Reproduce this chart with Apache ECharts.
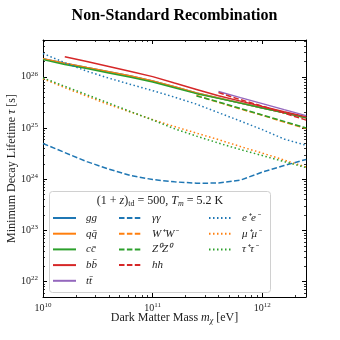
<!DOCTYPE html>
<html>
<head>
<meta charset="utf-8">
<script src="https://cdn.jsdelivr.net/npm/echarts@6/dist/echarts.min.js"></script>
<style>
  html, body { margin: 0; padding: 0; background: #fff; }
  #chart { width: 340px; height: 340px; }
</style>
</head>
<body>
<div id="chart"></div>
<script>
// dark matter mass [eV]
var masses = [1e10, 1.58e10, 2.51e10, 3.98e10, 6.31e10, 1e11, 1.58e11, 2.51e11, 3.98e11, 6.31e11, 1e12, 1.58e12, 2.51e12];

// minimum decay lifetime [s], null = not plotted
var ggTau   = [2.27e26, 1.85e26, 1.52e26, 1.26e26, 1.04e26, 8.3e25, 6.4e25, 4.85e25, 3.87e25, 3.1e25, 2.47e25, 1.98e25, 1.58e25];
var qqTau   = [2.27e26, 1.85e26, 1.52e26, 1.26e26, 1.04e26, 8.3e25, 6.4e25, 4.85e25, 3.87e25, 3.1e25, 2.47e25, 1.98e25, 1.58e25];
var ccTau   = [2.17e26, 1.75e26, 1.45e26, 1.19e26, 9.8e25, 7.9e25, 6.15e25, 4.7e25, 3.8e25, 3.07e25, 2.46e25, 1.98e25, 1.58e25];
var bbTau   = [null, 2.48e26, 1.99e26, 1.59e26, 1.27e26, 1.01e26, 7.57e25, 5.68e25, 4.28e25, 3.36e25, 2.64e25, 2.09e25, 1.67e25];
var ttTau   = [null, null, null, null, null, null, null, null, 5.19e25, 3.93e25, 3.0e25, 2.29e25, 1.75e25];
var gamTau  = [5.0e24, 3.32e24, 2.21e24, 1.58e24, 1.18e24, 9.86e23, 8.9e23, 8.36e23, 8.43e23, 9.6e23, 1.38e24, 1.85e24, 2.44e24];
var wwTau   = [null, null, null, null, null, null, null, 4.33e25, 3.18e25, 2.36e25, 1.77e25, 1.31e25, 9.75e24];
var zzTau   = [null, null, null, null, null, null, null, 4.24e25, 3.24e25, 2.42e25, 1.8e25, 1.35e25, 1.0e25];
var hhTau   = [null, null, null, null, null, null, null, null, 4.92e25, 3.59e25, 2.68e25, 1.96e25, 1.43e25];
var eeTau   = [2.86e26, 1.89e26, 1.29e26, 9.44e25, 7.1e25, 5.38e25, 4.02e25, 2.93e25, 2.0e25, 1.37e25, 9.3e24, 6.1e24, 4.6e24];
var mumuTau = [9.2e25, 6.15e25, 4.2e25, 2.87e25, 2.05e25, 1.46e25, 1.07e25, 7.96e24, 5.95e24, 4.35e24, 3.24e24, 2.37e24, 1.73e24];
var tautauTau = [9.55e25, 6.53e25, 4.48e25, 3.07e25, 2.09e25, 1.44e25, 9.7e24, 6.96e24, 5.09e24, 3.8e24, 2.9e24, 2.21e24, 1.69e24];

// tick labels (powers of ten)
var xTickExp = [10, 11, 12];
var yTickExp = [22, 23, 24, 25, 26];

var X_MIN = 10, X_MAX = Math.log10(2.5e12);
var Y_MIN = 21.7, Y_MAX = 26.72;
var FONT = 'Liberation Serif';

var C = { blue: '#1f77b4', orange: '#ff7f0e', green: '#2ca02c', red: '#d62728', purple: '#9467bd' };
var DASH = [5.5, 2.4];
var DOT = [1.5, 2.5];

function toPoints(tau) {
    var pts = [];
    for (var i = 0; i < masses.length; i++) {
        if (tau[i] != null) pts.push([Math.log10(masses[i]), Math.log10(tau[i])]);
    }
    return pts;
}

function minorTicks(lo, hi) {
    var out = [];
    for (var d = Math.floor(lo); d <= Math.ceil(hi); d++) {
        for (var k = 2; k <= 9; k++) {
            var v = d + Math.log10(k);
            if (v > lo && v < hi) out.push(v);
        }
    }
    return out;
}

var supRich = {
    b: { fontFamily: FONT, fontSize: 10, color: '#222' },
    s: { fontFamily: FONT, fontSize: 7, color: '#222', padding: [0, 0, 6, 0] }
};
function powLabel(v) {
    return '{b|10}{s|' + Math.round(v) + '}';
}

var lines = [
    { name: 'gg', data: ggTau, color: C.blue, type: 'solid' },
    { name: 'qq\u0304', data: qqTau, color: C.orange, type: 'solid' },
    { name: 'cc\u0304', data: ccTau, color: C.green, type: 'solid' },
    { name: 'bb\u0304', data: bbTau, color: C.red, type: 'solid' },
    { name: 'tt\u0304', data: ttTau, color: C.purple, type: 'solid' },
    { name: '\u03b3\u03b3', data: gamTau, color: C.blue, type: DASH },
    { name: 'W\u207aW\u207b', data: wwTau, color: C.orange, type: DASH },
    { name: 'Z\u2070Z\u2070', data: zzTau, color: C.green, type: DASH },
    { name: 'hh', data: hhTau, color: C.red, type: DASH },
    { name: 'e\u207ae\u207b', data: eeTau, color: C.blue, type: DOT },
    { name: '\u03bc\u207a\u03bc\u207b', data: mumuTau, color: C.orange, type: DOT },
    { name: '\u03c4\u207a\u03c4\u207b', data: tautauTau, color: C.green, type: DOT }
];

var series = lines.map(function (l) {
    return {
        name: l.name,
        type: 'line',
        data: toPoints(l.data),
        symbol: 'none',
        smooth: false,
        color: l.color,
        lineStyle: { color: l.color, width: 1.5, type: l.type },
        emphasis: { disabled: true }
    };
});

function legendCol(names, left) {
    return {
        data: names,
        orient: 'vertical',
        left: left,
        top: 212,
        padding: 0,
        itemWidth: 23,
        itemHeight: 12,
        itemGap: 3.7,
        selectedMode: false,
        itemStyle: { opacity: 0 },
        textStyle: { fontFamily: FONT, fontStyle: 'italic', fontSize: 11, color: '#222', lineHeight: 12, padding: [0, 0, 0, 5] }
    };
}

function axisBase(min, max) {
    return {
        type: 'value',
        min: min,
        max: max,
        splitLine: { show: false },
        axisLine: { show: false },
        axisLabel: { show: false },
        axisTick: { show: false }
    };
}

function majorAxis(min, max, pos, ticks, withLabels) {
    var a = axisBase(min, max);
    a.position = pos;
    a.axisLine = { show: true, onZero: false, lineStyle: { color: '#000', width: 1 } };
    a.axisTick = { show: true, inside: true, length: 4, customValues: ticks, lineStyle: { color: '#000', width: 1 } };
    if (withLabels) {
        a.axisLabel = { show: true, customValues: ticks, formatter: powLabel, rich: supRich, margin: 5 };
    }
    return a;
}

function minorAxis(min, max, pos) {
    var a = axisBase(min, max);
    a.position = pos;
    a.axisTick = { show: true, inside: true, length: 2, customValues: minorTicks(min, max), lineStyle: { color: '#000', width: 0.8 } };
    return a;
}

var xMain = majorAxis(X_MIN, X_MAX, 'bottom', xTickExp, true);
xMain.name = 'Dark Matter Mass {i|m}{sub|\u03c7} [eV]';
xMain.nameLocation = 'middle';
xMain.nameGap = 14;
xMain.nameMoveOverlap = false;
xMain.nameTextStyle = {
    fontFamily: FONT, fontSize: 12, color: '#222',
    rich: {
        i: { fontFamily: FONT, fontStyle: 'italic', fontSize: 12, color: '#222' },
        sub: { fontFamily: FONT, fontStyle: 'italic', fontSize: 8, color: '#222', padding: [6, 0, 0, 0] }
    }
};

var yMain = majorAxis(Y_MIN, Y_MAX, 'left', yTickExp, true);
yMain.name = 'Minimum Decay Lifetime {i|\u03c4} [s]';
yMain.nameLocation = 'middle';
yMain.nameGap = 25;
yMain.nameMoveOverlap = false;
yMain.nameRotate = 90;
yMain.nameTextStyle = {
    fontFamily: FONT, fontSize: 12, color: '#222',
    rich: { i: { fontFamily: FONT, fontStyle: 'italic', fontSize: 12, color: '#222' } }
};

var option = {
    animation: false,
    backgroundColor: '#fff',
    grid: { left: 43, right: 34, top: 40, bottom: 43, containLabel: false, outerBoundsMode: 'none' },
    xAxis: [
        xMain,
        majorAxis(X_MIN, X_MAX, 'top', xTickExp, false),
        minorAxis(X_MIN, X_MAX, 'bottom'),
        minorAxis(X_MIN, X_MAX, 'top')
    ],
    yAxis: [
        yMain,
        majorAxis(Y_MIN, Y_MAX, 'right', yTickExp, false),
        minorAxis(Y_MIN, Y_MAX, 'left'),
        minorAxis(Y_MIN, Y_MAX, 'right')
    ],
    legend: [
        legendCol(['gg', 'qq\u0304', 'cc\u0304', 'bb\u0304', 'tt\u0304'], 52),
        legendCol(['\u03b3\u03b3', 'W\u207aW\u207b', 'Z\u2070Z\u2070', 'hh'], 118),
        legendCol(['e\u207ae\u207b', '\u03bc\u207a\u03bc\u207b', '\u03c4\u207a\u03c4\u207b'], 208)
    ],
    graphic: [
        {
            type: 'text',
            x: 174.5,
            y: 8,
            style: {
                text: 'Non-Standard Recombination',
                font: 'bold 16px "Liberation Serif"',
                fill: '#000',
                align: 'center', textAlign: 'center',
                verticalAlign: 'top', textVerticalAlign: 'top'
            }
        },
        {
            type: 'rect',
            z: 1,
            shape: { x: 49.5, y: 191.5, width: 221, height: 101, r: 3 },
            style: { fill: 'rgba(255,255,255,0.8)', stroke: '#d0d0d0', lineWidth: 1 }
        },
        {
            type: 'text',
            z: 2,
            x: 160,
            y: 201,
            style: {
                text: '(1 + {i|z}){sub|td} = 500, {i|T}{subi|m} = 5.2 K',
                font: '12px "Liberation Serif"',
                fill: '#222',
                align: 'center', textAlign: 'center',
                verticalAlign: 'middle', textVerticalAlign: 'middle',
                rich: {
                    i: { fontFamily: FONT, fontStyle: 'italic', fontSize: 12, fill: '#222' },
                    sub: { fontFamily: FONT, fontSize: 8, fill: '#222', padding: [6, 0, 0, 0] },
                    subi: { fontFamily: FONT, fontStyle: 'italic', fontSize: 8, fill: '#222', padding: [6, 0, 0, 0] }
                }
            }
        }
    ],
    series: series
};

var chart = echarts.init(document.getElementById('chart'));
chart.setOption(option);
</script>
</body>
</html>
